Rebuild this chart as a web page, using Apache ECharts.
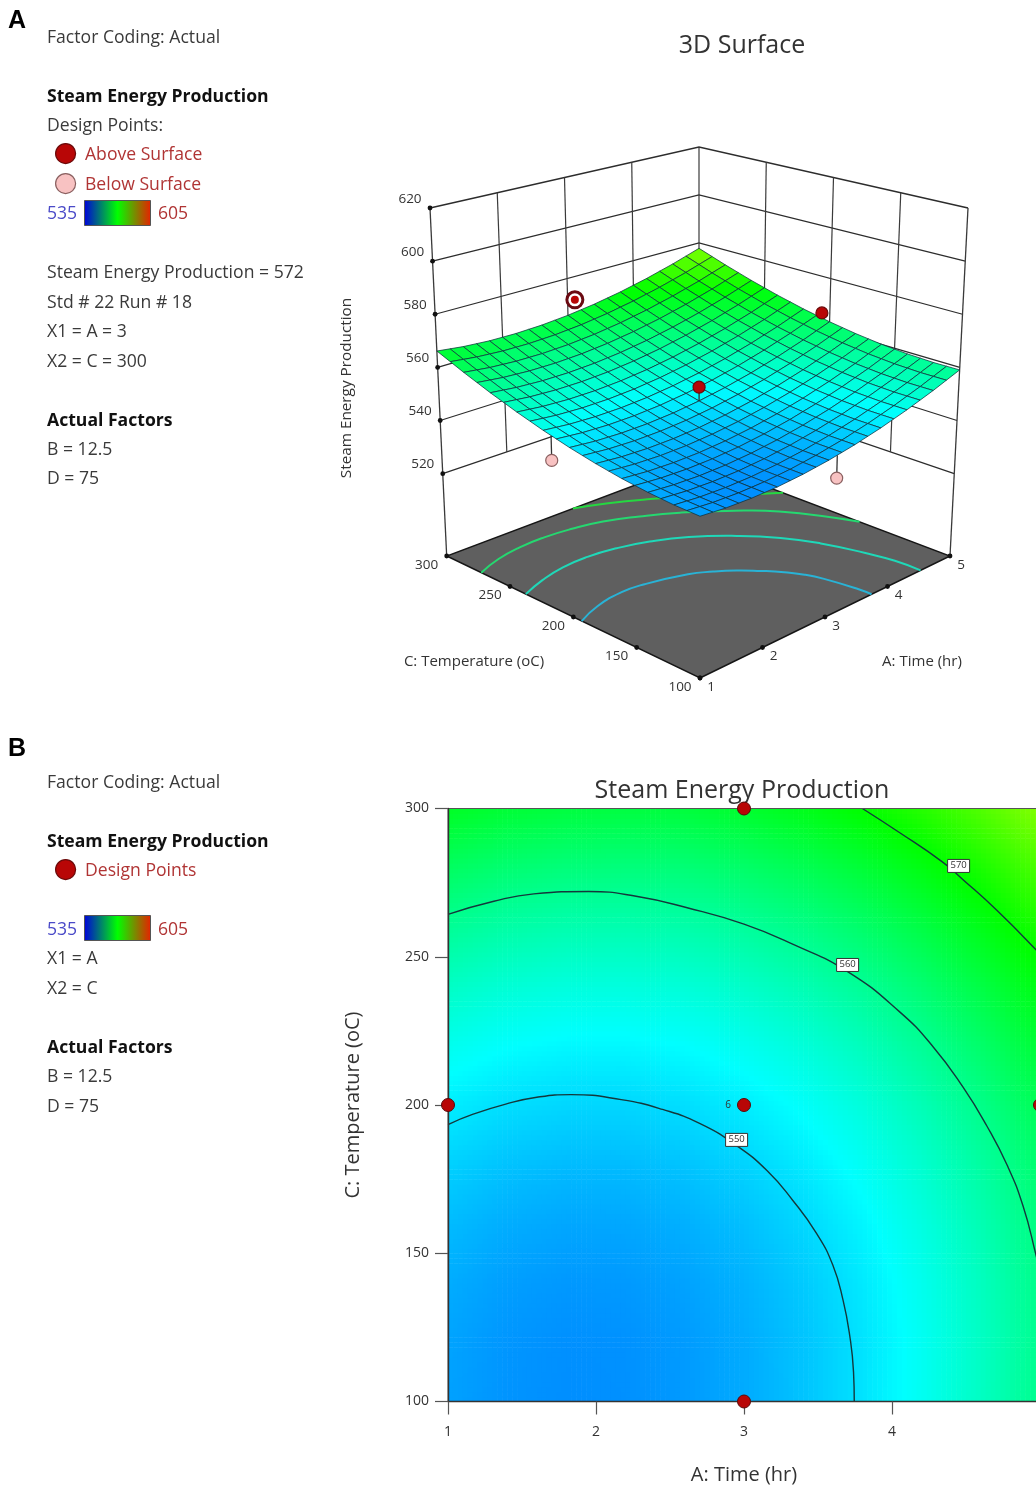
<!DOCTYPE html>
<html><head><meta charset="utf-8">
<style>html,body{margin:0;padding:0;background:#fff;overflow:hidden}#c{width:1036px;height:1490px}</style>
<script src="https://cdn.jsdelivr.net/npm/echarts@6/dist/echarts.min.js"></script>
</head><body><div id="c"></div>
<script>
// ---------- data ----------
var timeNodes = [1, 1.4, 1.8, 2.2, 2.6, 3, 3.4, 3.8, 4.2, 4.6, 5];
var tempNodes = [100, 120, 140, 160, 180, 200, 220, 240, 260, 280, 300];
// Steam Energy Production estimated at each (temp row, time column)
var prod100 = [546.06,545.16,544.78,544.91,545.57,546.74,548.42,550.63,553.35,556.58,560.34];
var prod120 = [546.23,545.30,544.89,545.00,545.63,546.77,548.43,550.61,553.30,556.51,560.24];
var prod140 = [546.84,545.88,545.45,545.53,546.13,547.24,548.88,551.02,553.69,556.87,560.57];
var prod160 = [547.88,546.90,546.44,546.49,547.07,548.15,549.76,551.88,554.52,557.67,561.35];
var prod180 = [549.37,548.36,547.87,547.90,548.44,549.50,551.08,553.17,555.78,558.91,562.56];
var prod200 = [551.29,550.25,549.74,549.74,550.25,551.29,552.84,554.90,557.49,560.59,564.21];
var prod220 = [553.64,552.58,552.04,552.01,552.50,553.51,555.03,557.07,559.63,562.70,566.29];
var prod240 = [556.44,555.35,554.78,554.73,555.19,556.17,557.66,559.68,562.21,565.25,568.82];
var prod260 = [559.67,558.56,557.96,557.88,558.31,559.27,560.74,562.72,565.22,568.24,571.78];
var prod280 = [563.35,562.20,561.58,561.47,561.88,562.80,564.24,566.20,568.68,571.67,575.18];
var prod300 = [567.46,566.29,565.63,565.50,565.88,566.78,568.19,570.12,572.57,575.53,579.02];
var productionGrid = [prod100,prod120,prod140,prod160,prod180,prod200,prod220,prod240,prod260,prod280,prod300];

var timeTicks = [1, 2, 3, 4, 5];
var tempTicks = [100, 150, 200, 250, 300];
var prodTicks = [520, 540, 560, 580, 600, 620];

// contour lines of panel B: [time, temperature]
var contour550 = [[1,193.4],[1.17,196.9],[1.39,200.3],[1.6,202.6],[1.83,203.5],[2.17,201.8],[2.45,198.5],[2.70,193.8],[2.95,186.3],[3.155,177.9],[3.33,167.8],[3.49,156.7],[3.60,146],[3.67,134],[3.715,122],[3.74,110],[3.745,100]];
var contour560 = [[1,264.3],[1.31,268.7],[1.58,271.2],[1.95,272],[2.28,270.3],[2.61,266.6],[3.0,261],[3.34,254],[3.7,245],[4.05,231.5],[4.28,219.5],[4.48,206],[4.64,193],[4.78,179.5],[4.885,166],[4.97,150],[5,143]];
var contour570 = [[3.80,300],[4.05,291.9],[4.34,282],[4.48,276],[4.71,265.6],[4.97,252.5],[5,250.5]];
var contourLabels = [[2.95,188.4,'550'],[3.70,247.4,'560'],[4.45,280.8,'570']];
var designPoints2D = [[3,300],[1,200],[3,200],[5,200],[3,100]];

// contour lines on the floor of panel A: [time, temperature]
var floorLine550 = [[1,193.4],[1.39,200.3],[1.83,203.5],[2.17,201.8],[2.70,193.8],[2.95,186.3],[3.155,177.9],[3.33,167.8],[3.49,156.7],[3.60,146],[3.67,134],[3.74,110],[3.745,100]];
var floorLine556 = [[1,237.5],[1.4,244],[1.8,248],[2.2,248.5],[2.6,245.5],[3,239],[3.4,228],[3.8,210],[4.1,190],[4.3,168],[4.45,140],[4.52,120],[4.53,100]];
var floorLine562 = [[1,272.7],[1.4,279],[1.8,282.2],[2.2,282.7],[2.6,280.6],[3,276],[3.4,267],[3.8,255],[4.2,238.4],[4.6,216],[5,172]];
var floorLine568 = [[3,300],[3.4,292],[3.8,281],[4.2,267],[4.6,250],[5,233]];
var floorValues = [550, 556, 562, 568];

// design points of panel A as placed in the picture: [time, temperature, production]
var pointsBelow = [[1,214,542.6],[3.13,100,537.7]];
var pointsAbove = [[3,200,555.2],[5,206,565.5]];
var pointSelected = [3.11,300,570.8];

// ---------- texts ----------
var FONT = "'Open Sans','Noto Sans',sans-serif";
var INK = '#3a3a3a', RED = '#b03434', BLUE = '#4a4ac8';
var textsA = [['Factor Coding: Actual',47,36,INK],['Steam Energy Production',47,95,'#111','bold'],['Design Points:',47,124,INK],
  ['Above Surface',85,153,RED],['Below Surface',85,183,RED],['535',47,212,BLUE],['605',158,212,RED],
  ['Steam Energy Production = 572',47,271,INK],['Std # 22 Run # 18',47,301,INK],['X1 = A = 3',47,330,INK],['X2 = C = 300',47,360,INK],
  ['Actual Factors',47,419,'#111','bold'],['B = 12.5',47,448,INK],['D = 75',47,477,INK]];
var textsB = [['Factor Coding: Actual',47,781,INK],['Steam Energy Production',47,840,'#111','bold'],['Design Points',85,869,RED],
  ['535',47,928,BLUE],['605',158,928,RED],['X1 = A',47,957,INK],['X2 = C',47,987,INK],
  ['Actual Factors',47,1046,'#111','bold'],['B = 12.5',47,1075,INK],['D = 75',47,1105,INK]];

// ---------- helpers ----------
function ramp(v){
  var s=[[535,0,0,255],[552.5,0,255,255],[570,0,255,0],[587.5,255,255,0],[605,255,0,0]];
  for(var i=0;i<4;i++){ if(v<=s[i+1][0]){ var t=Math.max(0,(v-s[i][0])/(s[i+1][0]-s[i][0]));
    return 'rgb('+[1,2,3].map(function(k){return Math.round(s[i][k]+(s[i+1][k]-s[i][k])*t);}).join(',')+')'; } }
  return 'rgb(255,0,0)';
}
function lookup(a,c){
  var fi=(a-1)/0.4, fj=(c-100)/20;
  var i=Math.min(9,Math.max(0,Math.floor(fi))), j=Math.min(9,Math.max(0,Math.floor(fj)));
  var s=fi-i,t=fj-j,g=productionGrid;
  return g[j][i]*(1-s)*(1-t)+g[j][i+1]*s*(1-t)+g[j+1][i]*(1-s)*t+g[j+1][i+1]*s*t;
}
// box geometry of the 3D view on the page
var BOX={ zMin:489, zMax:620,
  floor:{f:[700,678],r:[950,556],l:[446.7,556],b:[699,461]},
  top:{f:[700,298],r:[968,208],l:[430,208],b:[699,147]} };
var SURFACE_SHIFT=-1.3;
function project(a,c,z){
  var u=(a-1)/4,v=(c-100)/200,h=(z-BOX.zMin)/(BOX.zMax-BOX.zMin);
  function pl(q,k){return (1-u)*(1-v)*q.f[k]+u*(1-v)*q.r[k]+(1-u)*v*q.l[k]+u*v*q.b[k];}
  return [0,1].map(function(k){return pl(BOX.floor,k)*(1-h)+pl(BOX.top,k)*h;});
}
function line(pts,stroke,w,smooth){return {type:'polyline',silent:true,shape:{points:pts,smooth:smooth||0},style:{fill:null,stroke:stroke,lineWidth:w}};}
function dot(p,r,fill,stroke,w){return {type:'circle',silent:true,shape:{cx:p[0],cy:p[1],r:r},style:{fill:fill,stroke:stroke,lineWidth:w||0}};}
function label(p,t,size,col,align){return {type:'text',silent:true,style:{x:p[0],y:p[1],text:t,fill:col||'#333',font:(size||13.5)+'px '+FONT,align:align||'center',verticalAlign:'middle'}};}

// ---------- panel A pieces ----------
function wallsItem(params,api){
  var P=function(a,c,z){return api.coord(project(a,c,z));},kids=[];
  prodTicks.forEach(function(z){kids.push(line([P(1,300,z),P(5,300,z),P(5,100,z)],'#2c2c2c',z===620?1.4:1.2));});
  timeTicks.slice(1,4).forEach(function(a){kids.push(line([P(a,300,620),P(a,300,520)],'#3a3a3a',1.2));});
  tempTicks.slice(1,4).forEach(function(c){kids.push(line([P(5,c,620),P(5,c,520)],'#3a3a3a',1.2));});
  kids.push(line([P(5,300,620),P(5,300,520)],'#3a3a3a',1.2));
  kids.push(line([P(1,300,620),P(1,300,BOX.zMin)],'#3a3a3a',1.3));
  kids.push(line([P(5,100,620),P(5,100,BOX.zMin)],'#3a3a3a',1.3));
  prodTicks.forEach(function(z){var p=P(1,300,z);kids.push(dot(p,2.4,'#111'));kids.push(label([p[0]-20,p[1]-9],String(z)));});
  return {type:'group',children:kids};
}
function floorItem(params,api){
  var z=BOX.zMin,P=function(a,c){return api.coord(project(a,c,z));},kids=[];
  kids.push({type:'polygon',silent:true,shape:{points:[P(1,100),P(5,100),P(5,300),P(1,300)]},style:{fill:'#5f5f5f',stroke:'#161616',lineWidth:1.4}});
  [floorLine550,floorLine556,floorLine562,floorLine568].forEach(function(l,i){
    var col=['#29b3d6','#1fd8b8','#25d870','#25d840'][i];
    kids.push(line(l.map(function(q){return P(q[0],q[1]);}),col,2,0.5));
  });
  timeTicks.forEach(function(a){var p=P(a,100);kids.push(dot(p,2.4,'#111'));kids.push(label([p[0]+11,p[1]+9],String(a)));});
  tempTicks.forEach(function(c){var p=P(1,c);kids.push(dot(p,2.4,'#111'));kids.push(label([p[0]-20,p[1]+9],String(c)));});
  return {type:'group',children:kids};
}
function stemKids(api,q,r,fill,stroke){
  var a=api.coord(project(q[0],q[1],q[2])),b=api.coord(project(q[0],q[1],lookup(q[0],q[1])+SURFACE_SHIFT));
  return [line([a,b],'#333',1.3),dot(a,r,fill,stroke,1.2)];
}
function belowItem(params,api){
  var kids=[];pointsBelow.forEach(function(q){kids=kids.concat(stemKids(api,q,6,'#f8c2c2','#8a6060'));});
  return {type:'group',children:kids};
}
function surfaceItem(params,api){
  var kids=[],n=20,P=function(a,c){return api.coord(project(a,c,lookup(a,c)+SURFACE_SHIFT));};
  for(var i=n-1;i>=0;i--){for(var j=n-1;j>=0;j--){
    var a0=1+i*0.2,a1=a0+0.2,c0=100+j*10,c1=c0+10;
    kids.push({type:'polygon',silent:true,shape:{points:[P(a0,c0),P(a1,c0),P(a1,c1),P(a0,c1)]},
      style:{fill:ramp(lookup((a0+a1)/2,(c0+c1)/2)),stroke:'rgba(15,50,60,0.75)',lineWidth:1}});
  }}
  return {type:'group',children:kids};
}
function aboveItem(params,api){
  var kids=[];pointsAbove.forEach(function(q){kids=kids.concat(stemKids(api,q,6,'#b80606','#6b0a0a'));});
  var s=api.coord(project(pointSelected[0],pointSelected[1],pointSelected[2]));
  kids.push(dot(s,8,'#ffffff','#6b0a12',3));
  kids.push(dot(s,4,'#b80606','#b80606',0));
  return {type:'group',children:kids};
}
// ---------- panel B pieces ----------
function heatItem(params,api){
  var i=api.value(0),j=api.value(1),N=12,kids=[];
  var a0=timeNodes[i],a1=timeNodes[i+1],c0=tempNodes[j],c1=tempNodes[j+1];
  var g=productionGrid,v00=g[j][i],v10=g[j][i+1],v01=g[j+1][i],v11=g[j+1][i+1];
  for(var k=0;k<N;k++){for(var l=0;l<N;l++){
    var s=(k+.5)/N,t=(l+.5)/N;
    var v=v00*(1-s)*(1-t)+v10*s*(1-t)+v01*(1-s)*t+v11*s*t;
    var p=api.coord([a0+(a1-a0)*k/N,c0+(c1-c0)*(l+1)/N]),q=api.coord([a0+(a1-a0)*(k+1)/N,c0+(c1-c0)*l/N]);
    kids.push({type:'rect',silent:true,shape:{x:p[0],y:p[1],width:q[0]-p[0]+0.6,height:q[1]-p[1]+0.6},style:{fill:ramp(v)}});
  }}
  return {type:'group',children:kids};
}
function contourTagItem(params,api){
  var p=api.coord([api.value(0),api.value(1)]);
  return {type:'group',children:[
    {type:'rect',silent:true,shape:{x:p[0]-11,y:p[1]-6,width:22,height:13},style:{fill:'#fff',stroke:'#333',lineWidth:1}},
    label(p,contourLabels[params.dataIndex][2],9.5,'#333')]};
}
var heatCells=[];
for(var ci=0;ci<timeNodes.length-1;ci++){for(var cj=0;cj<tempNodes.length-1;cj++){heatCells.push([ci,cj]);}}
function contourSeries(d){return {type:'line',xAxisIndex:1,yAxisIndex:1,data:d,showSymbol:false,smooth:0.5,silent:true,z:4,
  lineStyle:{color:'#14383c',width:1.4}};}
function one(fn,z){return {type:'custom',xAxisIndex:0,yAxisIndex:0,data:[[0,0]],renderItem:fn,clip:false,silent:true,z:z};}

// ---------- side text ----------
function sideTexts(list){return list.map(function(t){return {type:'text',silent:true,left:t[1],top:t[2]-7,
  style:{text:t[0],fill:t[3],font:(t[4]||'normal')+' 17.6px '+FONT,verticalAlign:'top'}};});}
function legendBar(y){return {type:'rect',silent:true,left:84,top:y,shape:{width:66,height:25},
  style:{stroke:'#555',lineWidth:1,fill:new echarts.graphic.LinearGradient(0,0,1,0,[{offset:0,color:'#0000dc'},{offset:.5,color:'#00ff00'},{offset:1,color:'#e82000'}])}};}
function legendDot(y,fill,stroke){return {type:'circle',silent:true,left:55,top:y-10,shape:{r:10},style:{fill:fill,stroke:stroke,lineWidth:1.2}};}
function letter(t,y){return {type:'text',silent:true,left:8,top:y,style:{text:t,fill:'#000',font:"bold 25px 'Liberation Sans',Arial,sans-serif"}};}
function free(t,x,y,size,rot){return {type:'text',silent:true,x:x,y:y,rotation:rot||0,style:{text:t,fill:'#333',font:size+'px '+FONT,align:'center',verticalAlign:'middle'}};}

var graphics=[letter('A',9),letter('B',737)]
 .concat(sideTexts(textsA),sideTexts(textsB))
 .concat([legendBar(200),legendBar(915),legendDot(153,'#b80606','#6b0a0a'),legendDot(183,'#f8c2c2','#8a6060'),legendDot(869,'#b80606','#6b0a0a'),
   free('C: Temperature (oC)',474,662,15),free('A: Time (hr)',922,662,15),free('Steam Energy Production',347,388,15.3,Math.PI/2)]);

var chart=echarts.init(document.getElementById('c'),null,{renderer:'canvas'});
chart.setOption({
  animation:false,
  title:[
    {text:'3D Surface',left:742,top:46,textAlign:'center',textVerticalAlign:'middle',textStyle:{fontFamily:FONT,fontWeight:'normal',fontSize:25,color:'#333'},padding:0},
    {text:'Steam Energy Production',left:742,top:791,textAlign:'center',textVerticalAlign:'middle',textStyle:{fontFamily:FONT,fontWeight:'normal',fontSize:25,color:'#333'},padding:0}
  ],
  grid:[
    {left:0,top:0,width:1036,height:1490,show:false,outerBoundsMode:'none'},
    {left:448,top:808.5,width:592,height:593,show:true,backgroundColor:'transparent',borderColor:'#555',borderWidth:1,z:6,outerBoundsMode:'none'}
  ],
  xAxis:[
    {type:'value',gridIndex:0,min:0,max:1036,show:false},
    {type:'value',gridIndex:1,min:1,max:5,interval:1,z:6,splitLine:{show:false},
      axisLine:{lineStyle:{color:'#333',width:1.4}},axisTick:{length:13,lineStyle:{color:'#555',width:1.2}},
      axisLabel:{margin:24,fontSize:14,color:'#333',fontFamily:FONT},
      name:'A: Time (hr)',nameLocation:'middle',nameGap:64,nameTextStyle:{fontFamily:FONT,fontSize:20,color:'#333'}}
  ],
  yAxis:[
    {type:'value',gridIndex:0,min:0,max:1490,inverse:true,show:false},
    {type:'value',gridIndex:1,min:100,max:300,interval:50,z:6,splitLine:{show:false},
      axisLine:{show:true,lineStyle:{color:'#333',width:1.4}},axisTick:{show:true,length:13,lineStyle:{color:'#555',width:1.2}},
      axisLabel:{margin:19,fontSize:14,color:'#333',fontFamily:FONT},
      name:'C: Temperature (oC)',nameLocation:'middle',nameGap:85,nameTextStyle:{fontFamily:FONT,fontSize:20,color:'#333'}}
  ],
  graphic:graphics,
  series:[
    one(wallsItem,1),one(floorItem,2),one(belowItem,3),one(surfaceItem,4),one(aboveItem,5),
    {type:'custom',xAxisIndex:1,yAxisIndex:1,data:heatCells,renderItem:heatItem,clip:true,silent:true,z:2,progressive:0},
    contourSeries(contour550),contourSeries(contour560),contourSeries(contour570),
    {type:'custom',xAxisIndex:1,yAxisIndex:1,data:contourLabels.map(function(q){return [q[0],q[1]];}),renderItem:contourTagItem,silent:true,z:5},
    {type:'scatter',xAxisIndex:1,yAxisIndex:1,data:designPoints2D,symbol:'circle',symbolSize:13,clip:false,silent:true,z:7,
      itemStyle:{color:'#b80606',borderColor:'#5a0808',borderWidth:1,opacity:1},
      label:{show:true,position:'left',distance:6,fontSize:10,color:'#333',fontFamily:FONT,
        formatter:function(p){return p.dataIndex===2?'6':'';}}}
  ]
});
</script></body></html>
